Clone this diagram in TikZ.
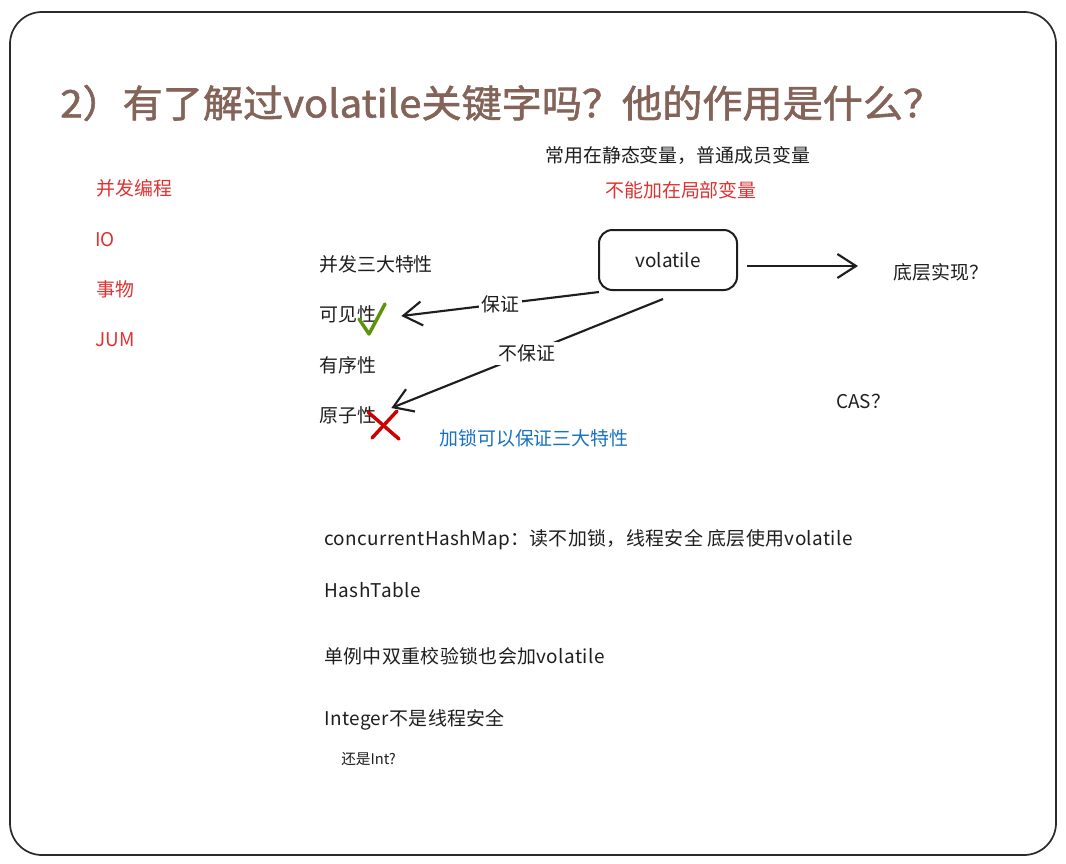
\documentclass[tikz,border=0pt]{standalone}
\usepackage{fontspec}
\setmainfont{Noto Sans CJK SC}
\newfontfamily\titlefont[FakeBold=1.5]{Noto Sans CJK SC}
\usetikzlibrary{arrows.meta,calc}
\definecolor{ink}{HTML}{1E1E1E}
\definecolor{brownt}{HTML}{846358}
\definecolor{redt}{HTML}{E03131}
\definecolor{bluet}{HTML}{1971C2}
\definecolor{greent}{HTML}{5C940D}
\definecolor{frame}{HTML}{2B2B2B}
\tikzset{
  txt/.style={anchor=west,inner sep=0pt,text=ink,font=\fontsize{14.2}{16}\selectfont},
  redtxt/.style={txt,text=redt},
  arr/.style={draw=ink,line width=1.6pt,-{Straight Barb[length=14pt,width=18pt,line width=1.6pt]}},
  lbl/.style={fill=white,inner sep=2pt,text=ink,font=\fontsize{14.2}{16}\selectfont},
  boxn/.style={draw=ink,line width=1.5pt,rounded corners=10pt,minimum width=103.5pt,minimum height=45pt,font=\fontsize{14.2}{16}\selectfont,text=ink}
}
\begin{document}
\begin{tikzpicture}[x=0.75pt,y=-0.75pt]
\useasboundingbox (0,0) rectangle (1066,863);
\draw[frame,line width=1.3pt,rounded corners=24pt] (10,12) rectangle (1056,855);
\node[anchor=west,inner sep=0pt,text=brownt,font=\titlefont\fontsize{28.5}{30}\selectfont] (title) at (60,103) {\scalebox{1.056}[1]{2）有了解过volatile关键字吗？他的作用是什么？}};
% top notes
\node[txt] (cy) at (545,155) {常用在静态变量，普通成员变量};
\node[redtxt] (bn) at (605,190) {不能加在局部变量};
% left red list
\node[redtxt] (bf) at (96,188) {并发编程};
\node[redtxt] (io) at (95,240) {IO};
\node[redtxt] (sw) at (96,289) {事物};
\node[redtxt] (jum) at (95,340) {JUM};
% properties
\node[txt] (sd) at (319,264) {并发三大特性};
\node[txt] (kjx) at (319,314) {可见性};
\node[txt] (yxx) at (319,365) {有序性};
\node[txt] (yzx) at (319,415) {原子性};
% volatile box
\node[boxn] (vol) at (668,260) {volatile};
\node[txt] (dc) at (893,272) {底层实现？};
\node[txt] (cas) at (836,401) {CAS？};
\node[txt,text=bluet] (js) at (439,438) {加锁可以保证三大特性};
% arrows
\draw[arr] ($(vol.east)+(9,6)$) -- ($(dc.west)+(-35,-6)$);
\draw[arr] ($(vol.south west)+(1,1)$) -- node[lbl,pos=0.5] (bz) {保证} ($(kjx.east)+(25,2)$);
\draw[arr] ($(vol.south)+(-5,8)$) -- node[lbl,pos=0.5] (bbz) {不保证} ($(yzx.east)+(15,-7)$);
% check and cross
\draw[greent,line width=2.6pt,line cap=round,line join=round] (359,319) -- (369,334) -- (385,304);
\draw[red!80!black,line width=2.6pt,line cap=round] (368,412) -- (399,439);
\draw[red!80!black,line width=2.6pt,line cap=round] (397,411) -- (372,438);
% bottom notes
\node[txt] (chm) at (324,540) {\addfontfeature{LetterSpace=2}concurrentHashMap：读不加锁，线程安全 底层使用volatile};
\node[txt] (ht) at (324,590) {\addfontfeature{LetterSpace=3}HashTable};
\node[txt] (dl) at (324,656) {\addfontfeature{LetterSpace=2}单例中双重校验锁也会加volatile};
\node[txt] (ig) at (324,720) {\addfontfeature{LetterSpace=2}Integer不是线程安全};
\node[txt,font=\fontsize{11}{13}\selectfont] (hs) at (341,759) {还是Int?};
\end{tikzpicture}
\end{document}
